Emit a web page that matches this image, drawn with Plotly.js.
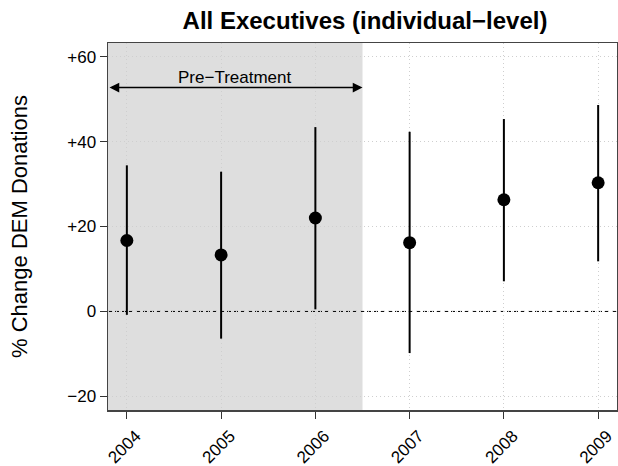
<!DOCTYPE html>
<html>
<head>
<meta charset="utf-8">
<script src="https://cdn.plot.ly/plotly-3.0.1.min.js"></script>
<style>html,body{margin:0;padding:0;background:#fff}#chart{width:618px;height:466px}</style>
</head>
<body>
<div id="chart"></div>
<script>
const years = [2004, 2005, 2006, 2007, 2008, 2009];
const estimates = [16.7, 13.3, 22.0, 16.2, 26.3, 30.3];
const upper = [34.4, 32.9, 43.4, 42.3, 45.3, 48.6];
const lower = [-0.8, -6.4, 0.5, -9.8, 7.1, 11.8];
const yTickVals = [-20, 0, 20, 40, 60];
const yTickText = ['\u221220', '0', '+20', '+40', '+60'];
const xTickText = ['2004', '2005', '2006', '2007', '2008', '2009'];
const preTreatmentEnd = 2006.5;
const arrowY = 52.7;

const xRange = [2003.8, 2009.2];
const yRange = [-23.2, 63.2];

const trace = {
  x: years,
  y: estimates,
  type: 'scatter',
  mode: 'markers',
  marker: {color: '#000', size: 13},
  error_y: {
    type: 'data',
    symmetric: false,
    array: upper.map((u, i) => u - estimates[i]),
    arrayminus: estimates.map((e, i) => e - lower[i]),
    color: '#000',
    thickness: 2,
    width: 0
  },
  hoverinfo: 'none',
  showlegend: false
};

const font = 'Liberation Sans, Arial, sans-serif';

const layout = {
  width: 618, height: 466,
  margin: {l: 107.5, r: 1, t: 43.3, b: 56},
  paper_bgcolor: '#fff',
  plot_bgcolor: '#fff',
  font: {family: font, color: '#000', size: 17},
  title: {
    text: '<b>All Executives (individual\u2212level)</b>',
    font: {family: font, size: 24, color: '#000'},
    x: 0.5906, xanchor: 'center', y: 0.955, yanchor: 'middle'
  },
  xaxis: {
    range: xRange,
    tickvals: years,
    ticktext: xTickText,
    tickangle: -45,
    ticklabelshift: 9,
    ticklabelstandoff: 1,
    ticks: 'outside', ticklen: 7, tickwidth: 1, tickcolor: '#333',
    showline: true, mirror: true, linecolor: '#444', linewidth: 1.5,
    showgrid: true, gridcolor: '#cfcfcf', griddash: '1px,3px', gridwidth: 1,
    zeroline: false,
    tickfont: {size: 17, family: font}
  },
  yaxis: {
    range: yRange,
    tickvals: yTickVals,
    ticktext: yTickText,
    ticks: 'outside', ticklen: 7, tickwidth: 1, tickcolor: '#333',
    showline: true, mirror: true, linecolor: '#444', linewidth: 1.5,
    showgrid: true, gridcolor: '#cfcfcf', griddash: '1px,3px', gridwidth: 1,
    zeroline: false,
    tickfont: {size: 17, family: font},
    title: {text: '% Change DEM Donations', font: {size: 22, family: font}, standoff: 33}
  },
  shapes: [
    {type: 'rect', xref: 'x', yref: 'paper', x0: xRange[0], x1: preTreatmentEnd, y0: 0, y1: 1,
     fillcolor: '#dedede', line: {width: 0}, layer: 'below'},
    {type: 'line', xref: 'paper', yref: 'y', x0: 0, x1: 1, y0: 0, y1: 0,
     line: {color: '#000', width: 1, dash: '4px,3px'}, layer: 'between'}
  ],
  annotations: [
    {x: preTreatmentEnd, y: arrowY, ax: xRange[0], ay: arrowY, xref: 'x', yref: 'y', axref: 'x', ayref: 'y',
     text: '', showarrow: true, arrowhead: 2, startarrowhead: 2, arrowside: 'end+start',
     arrowsize: 1.3, startarrowsize: 1.3, arrowwidth: 1.5, arrowcolor: '#000'},
    {x: (xRange[0] + preTreatmentEnd) / 2, y: arrowY, xref: 'x', yref: 'y', yshift: 10,
     text: 'Pre\u2212Treatment', showarrow: false, font: {size: 17, family: font, color: '#000'}}
  ]
};

Plotly.newPlot('chart', [trace], layout, {staticPlot: true, displayModeBar: false});
</script>
</body>
</html>
